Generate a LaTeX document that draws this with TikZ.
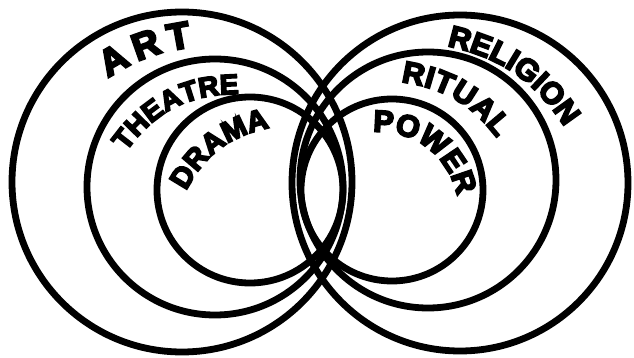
\documentclass[tikz,border=0pt]{standalone}
\usepackage{fontspec}
\usepackage{tikz}
\usetikzlibrary{decorations.text}

\newfontfamily\labelfont[BoldFeatures={FakeBold=6}]{Liberation Sans}
\newcommand\labsize[1]{\labelfont\bfseries\fontsize{#1}{#1}\selectfont}

\begin{document}
\begin{tikzpicture}[x=0.03cm, y=0.03cm]
    % --- GLOBAL DEFINITIONS ---
    \tikzset{
        ring/.style={line width=5.8pt, draw=black},
        arclabel/.style={decorate, decoration={text along path, text align=fit to path, text={#1}}}
    }
    \useasboundingbox (0,0) rectangle (634,357);

    % LEFT SET: art > theatre > drama
    \draw[ring] (182,175) circle[radius=170];
    \draw[ring] (215,170) circle[radius=128];
    \draw[ring] (250,167) circle[radius=93];

    % RIGHT SET: religion > ritual > power
    \draw[ring] (460,174) circle[radius=168];
    \draw[ring] (428,177) circle[radius=128];
    \draw[ring] (392,167) circle[radius=91];

    % Curved labels
    \path[arclabel={|\labsize{32}|ART}] (108,279) to[bend left=12] (192,310);
    \path[arclabel={|\labsize{24}|THEATRE}] (126,205) to[bend left=27] (237,263);
    \path[arclabel={|\labsize{25}|DRAMA}] (186,166) to[bend left=25] (269,229);
    \path[arclabel={|\labsize{26}|RELIGION}] (447,311) to[bend left=22] (564,231);
    \path[arclabel={|\labsize{26}|RITUAL}] (401,275) to[bend left=22] (497,219);
    \path[arclabel={|\labsize{26}|POWER}] (373,225) to[bend left=41] (457,161);
\end{tikzpicture}
\end{document}
